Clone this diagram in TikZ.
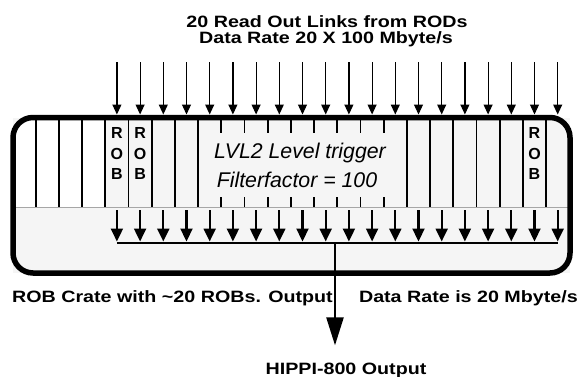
\documentclass[tikz,border=0pt]{standalone}
\usepackage{graphicx}
\usepackage{fontspec}
\setmainfont{Liberation Sans}
\usetikzlibrary{positioning,calc,arrows.meta}
\newcommand{\wide}[1]{\scalebox{1.2}[1]{#1}}
\tikzset{
  crate/.style ={rectangle, fill=black!4, minimum width=557pt, minimum height=155.5pt, inner sep=0pt, outer sep=0pt},
  frame/.style ={draw=black, line width=5.5pt, rounded corners=20pt},
  slot/.style  ={rectangle, minimum width=23.2pt, minimum height=90pt, inner sep=0pt, outer sep=0pt},
  sep/.style   ={draw=black, line width=1.8pt},
  rim/.style   ={draw=black!35, line width=0.8pt},
  rob/.style   ={font=\bfseries\fontsize{16}{20.5}\selectfont, align=center, inner sep=0pt},
  lbl/.style   ={font=\bfseries\fontsize{16.4}{20}\selectfont, inner sep=0pt},
  trig/.style  ={font=\itshape\fontsize{21.3}{26}\selectfont, inner sep=0pt},
  link/.style  ={-{Triangle[length=10pt,width=9pt]}, draw=black, line width=1.2pt},
  drop/.style  ={-{Triangle[length=13pt,width=12pt]}, draw=black, line width=2.2pt},
  bus/.style   ={draw=black, line width=2.4pt},
  hip/.style   ={-{Triangle[length=28pt,width=17pt]}, draw=black, line width=2.4pt},
}

\begin{document}
\begin{tikzpicture}[x=1pt, y=-1pt]
\useasboundingbox (0,0) rectangle (582,376);
\node[lbl, anchor=base] (head1) at (327,27) {\wide{20 Read Out Links from RODs}};
\node[lbl, anchor=base] (head2) at (326,43) {\wide{Data Rate 20 X 100 Mbyte/s}};
% crate with its slots
\node[crate] (crate) at (291.5,195.25) {};
\begin{scope}
\clip[rounded corners=20pt] (crate.north west) rectangle (crate.south east);
\foreach \k in {0,...,23}{
  \ifnum\k<4 \def\slotfill{white}\else\def\slotfill{black!4}\fi
  \node[slot, fill=\slotfill] (s\k) at ({24.1+23.2*\k},162.5) {};
}
\end{scope}
\foreach \k in {1,...,8}
  \draw[sep] (s\k.north west) -- (s\k.south west);
\foreach \k in {17,...,23}
  \draw[sep] (s\k.north west) -- (s\k.south west);
\foreach \k in {9,...,16}{
  \draw[sep] (s\k.north west) -- ++(0,15.5);
  \draw[sep] (s\k.south west) -- ++(0,-10.5);
}
\draw[rim] (s0.south west) -- (s23.south east);
\foreach \k in {4,5,22}
  \node[rob] (rob\k) at ($(s\k)+(0,-9)$) {R\\O\\B};
\node[trig, anchor=base] (trig1) at (300,158) {LVL2 Level trigger};
\node[trig, anchor=base] (trig2) at (297,187) {Filterfactor = 100};
\draw[frame] (crate.north west) rectangle (crate.south east);
% read out links in, event data out
\coordinate (top) at (0,62);
\coordinate (busy) at (0,243);
\foreach \k in {4,...,23}{
  \coordinate (in\k) at (s\k.north |- top);
  \draw[link, shorten >=3pt] (in\k) -- (s\k.north);
  \draw[drop, shorten <=2.5pt, shorten >=1.5pt] (s\k.south) -- (s\k.south |- busy);
}
\coordinate (busL) at (s4.south |- busy);
\coordinate (busR) at (s23.south |- busy);
\draw[bus] (busL) -- (busR);
\coordinate (tap) at (335,243);
\node[lbl, anchor=base] (hippi) at (346,374) {\wide{HIPPI-800 Output}};
\draw[hip, shorten >=17pt] (tap) -- (tap |- hippi.north);
\node[lbl, anchor=base west] (cratelbl) at (12,302) {\wide{ROB Crate with \textasciitilde 20 ROBs. Output}};
\node[lbl, anchor=base east] (ratelbl) at (578,302) {\wide{Data Rate is 20 Mbyte/s}};
\end{tikzpicture}
\end{document}
